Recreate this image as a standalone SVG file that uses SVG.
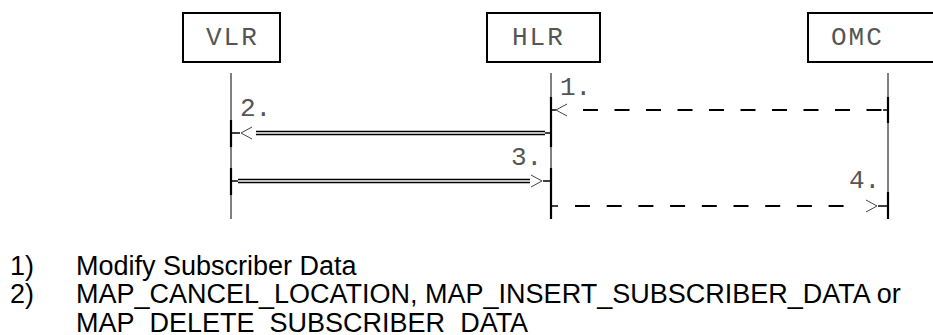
<svg xmlns="http://www.w3.org/2000/svg" width="933" height="335" viewBox="0 0 933 335">
<style>
.box{fill:#fff;stroke:#000;stroke-width:2}
.life{stroke:#000;stroke-width:1;fill:none}
.thick{stroke:#000;stroke-width:2.2;fill:none}
.mono{font-family:"Liberation Mono","Courier New",monospace;font-size:26px;fill:#555}
.lbl{letter-spacing:2px}
.ln{stroke:#000;stroke-width:1.5;fill:none}
.dash{stroke:#000;stroke-width:2;fill:none}
.head{stroke:#444;stroke-width:1;fill:none}
.note{font-family:"Liberation Sans",Arial,sans-serif;font-size:27px;fill:#000}
</style>
<rect width="933" height="335" fill="#fff"/>
<g id="VLR">
<rect class="box" x="183" y="13" width="97" height="49"/>
<text class="mono lbl" x="206" y="45">VLR</text>
<line class="life" x1="231" y1="73" x2="231" y2="219"/>
<line class="thick" x1="231" y1="120" x2="231" y2="147"/>
<line class="thick" x1="231" y1="168" x2="231" y2="195"/>
</g>
<g id="HLR">
<rect class="box" x="487" y="13" width="113" height="49"/>
<text class="mono lbl" x="512" y="45">HLR</text>
<line class="life" x1="551" y1="73" x2="551" y2="219"/>
<line class="thick" x1="551" y1="97" x2="551" y2="147"/>
<line class="thick" x1="551" y1="168" x2="551" y2="219"/>
</g>
<g id="OMC">
<path class="box" d="M936 13 H808 V62 H936"/>
<text class="mono lbl" x="831" y="45">OMC</text>
<line class="life" x1="888" y1="73" x2="888" y2="219"/>
<line class="thick" x1="888" y1="97" x2="888" y2="123"/>
<line class="thick" x1="888" y1="192" x2="888" y2="219"/>
</g>
<g id="connectors">
<g id="msg1">
<line class="ln" x1="551" y1="110" x2="556" y2="110"/>
<polyline class="head" points="567,104 556,110 567,116"/>
<line class="dash" x1="583" y1="110" x2="882" y2="110" stroke-dasharray="15 16.5"/>
<line class="ln" x1="883" y1="110" x2="888" y2="110"/>
<text class="mono" x="560" y="95">1.</text>
</g>
<g id="msg2">
<line class="ln" x1="231" y1="133" x2="240" y2="133"/>
<polyline class="head" points="252,127 241,133 252,139"/>
<line class="ln" x1="256" y1="131.5" x2="545" y2="131.5"/>
<line class="ln" x1="256" y1="134.5" x2="545" y2="134.5"/>
<line class="ln" x1="545" y1="133" x2="551" y2="133"/>
<text class="mono" x="240" y="116">2.</text>
</g>
<g id="msg3">
<line class="ln" x1="231" y1="181" x2="238" y2="181"/>
<line class="ln" x1="238" y1="179.5" x2="530" y2="179.5"/>
<line class="ln" x1="238" y1="182.5" x2="530" y2="182.5"/>
<polyline class="head" points="531,175 542,181 531,187"/>
<line class="ln" x1="543" y1="181" x2="551" y2="181"/>
<text class="mono" x="511" y="165">3.</text>
</g>
<g id="msg4">
<line class="ln" x1="551" y1="206" x2="558" y2="206"/>
<line class="dash" x1="575" y1="206" x2="845" y2="206" stroke-dasharray="15 16.7"/>
<polyline class="head" points="866,200 877,206 866,212"/>
<line class="ln" x1="878" y1="206" x2="888" y2="206"/>
<text class="mono" x="849" y="188">4.</text>
</g>
</g>
<g id="notes">
<text class="note" x="10" y="275">1)</text>
<text class="note" x="76" y="275">Modify Subscriber Data</text>
<text class="note" x="10" y="303">2)</text>
<text class="note" x="76" y="303">MAP_CANCEL_LOCATION, MAP_INSERT_SUBSCRIBER_DATA or</text>
<text class="note" x="76" y="332">MAP_DELETE_SUBSCRIBER_DATA</text>
</g>
</svg>
